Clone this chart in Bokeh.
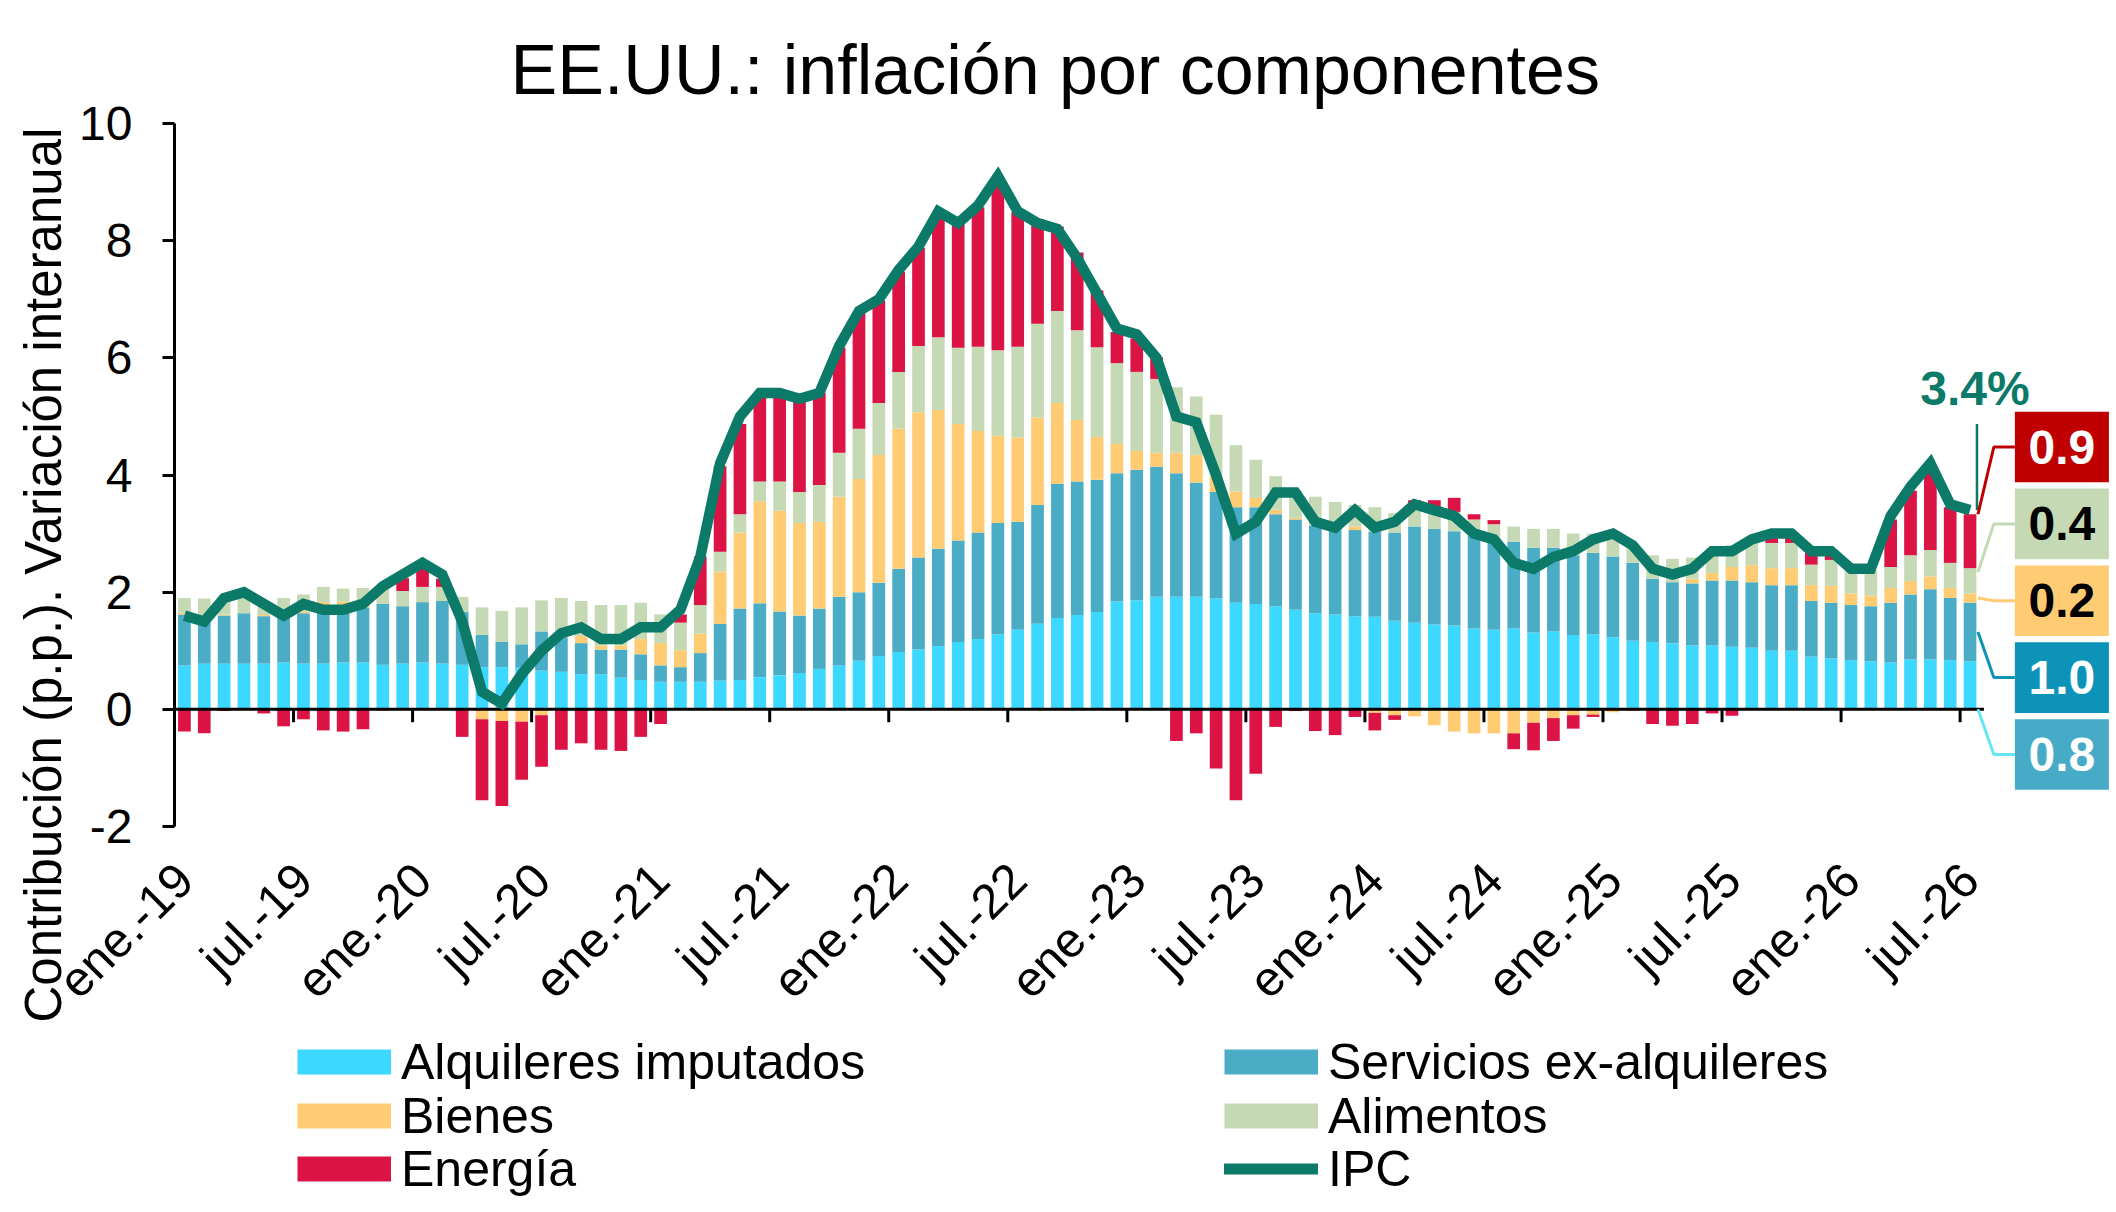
import numpy as np
from math import pi
from bokeh.plotting import figure
from bokeh.layouts import column
from bokeh.models import Range1d, FixedTicker, Legend, LegendItem, Title, ColumnDataSource, LinearAxis
from bokeh.embed import file_html
from bokeh.resources import INLINE
from bokeh.core.properties import value

# ---------------- data ----------------
meses = ["ene.", "feb.", "mar.", "abr.", "may.", "jun.", "jul.", "ago.", "sep.", "oct.", "nov.", "dic."]
anios = ["19", "20", "21", "22", "23", "24", "25", "26"]
categorias = [f"{m}-{a}" for a in anios for m in meses][:91]   # ene.-19 ... jul.-26

alquileres = [
    .75, .78, .78, .78, .78, .80, .78, .78, .80, .80, .76, .78,
    .80, .78, .76, .72, .72, .71, .66, .64, .60, .60, .54, .50,
    .47, .47, .47, .49, .50, .55, .58, .62, .69, .75, .83, .91,
    .98, 1.02, 1.08, 1.15, 1.20, 1.28, 1.36, 1.46, 1.56, 1.61, 1.66, 1.84,
    1.86, 1.92, 1.92, 1.92, 1.89, 1.82, 1.80, 1.76, 1.70, 1.64, 1.62, 1.59,
    1.58, 1.51, 1.48, 1.45, 1.43, 1.38, 1.36, 1.38, 1.31, 1.33, 1.27, 1.28,
    1.23, 1.17, 1.15, 1.13, 1.09, 1.09, 1.07, 1.05, 1.00, 1.00, .90, .87,
    .84, .82, .80, .85, .85, .84, .82]

servicios = [
    .87, .80, .82, .86, .81, .79, .86, .95, .92, .94, 1.04, .98,
    1.03, 1.07, .90, .55, .43, .40, .67, .59, .53, .42, .48, .44,
    .28, .25, .49, .97, 1.22, 1.26, 1.09, .98, 1.03, 1.17, 1.17, 1.25,
    1.42, 1.57, 1.66, 1.73, 1.82, 1.90, 1.84, 2.03, 2.29, 2.28, 2.26, 2.19,
    2.23, 2.22, 2.11, 1.95, 1.82, 1.63, 1.65, 1.57, 1.54, 1.50, 1.46, 1.47,
    1.45, 1.51, 1.64, 1.63, 1.61, 1.58, 1.57, 1.48, 1.45, 1.43, 1.36, 1.39,
    1.38, 1.33, 1.08, 1.04, 1.06, 1.11, 1.13, 1.12, 1.12, 1.12, .95, .95,
    .94, .94, 1.02, 1.11, 1.20, 1.06, 1.00]

bienes = [
    .03, .02, .02, -.01, .02, .02, .03, .10, .12, .05, .00, .00,
    .00, .00, .00, -.17, -.20, -.21, -.10, .00, .12, .07, .07, .26,
    .38, .29, .33, .89, 1.30, 1.74, 1.72, 1.58, 1.48, 1.71, 1.93, 2.18,
    2.39, 2.48, 2.37, 1.99, 1.73, 1.49, 1.44, 1.49, 1.38, 1.05, .73, .50,
    .32, .24, .35, .47, .27, .27, .16, .08, .03, .00, .00, .06,
    -.06, -.10, -.12, -.27, -.38, -.41, -.41, -.41, -.23, -.15, -.10, -.09,
    -.05, .00, .00, .00, .08, .13, .23, .29, .29, .29, .27, .29,
    .20, .18, .25, .23, .22, .17, .16]

alimentos = [
    .25, .29, .30, .31, .22, .29, .29, .26, .22, .28, .30, .26,
    .26, .24, .26, .47, .53, .63, .53, .67, .60, .69, .69, .62,
    .49, .47, .49, .34, .31, .34, .50, .53, .63, .75, .86, .89,
    .97, 1.13, 1.24, 1.30, 1.44, 1.46, 1.55, 1.60, 1.57, 1.53, 1.53, 1.38,
    1.35, 1.26, 1.12, 1.00, 1.05, .79, .65, .57, .46, .49, .46, .37,
    .42, .33, .29, .33, .33, .28, .23, .26, .32, .32, .37, .33,
    .37, .32, .40, .40, .36, .42, .37, .39, .43, .43, .35, .44,
    .40, .43, .36, .44, .45, .43, .43]

energia = [
    -.38, -.41, -.03, .06, -.07, -.29, -.17, -.36, -.38, -.34, -.02, .22,
    .38, .14, -.47, -1.38, -1.45, -.99, -.88, -.69, -.58, -.69, -.71, -.47,
    -.25, .14, .83, 1.46, 1.54, 1.43, 1.47, 1.57, 1.57, 1.79, 1.99, 1.75,
    1.71, 1.68, 2.10, 2.16, 2.38, 2.93, 2.30, 1.79, 1.44, 1.33, .97, .53,
    .57, .37, -.54, -.41, -1.01, -1.55, -1.10, -.30, -.03, -.37, -.44, -.13,
    -.30, -.08, .16, .16, .24, .09, .07, -.27, -.47, -.39, -.23, -.04,
    .05, -.02, -.25, -.28, -.25, -.07, -.11, .03, .08, .10, .20, .15,
    .00, .00, .81, 1.10, 1.45, .95, .92]

ipc = [
    1.6, 1.5, 1.9, 2.0, 1.8, 1.6, 1.8, 1.7, 1.7, 1.8, 2.1, 2.3,
    2.5, 2.3, 1.5, 0.3, 0.1, 0.6, 1.0, 1.3, 1.4, 1.2, 1.2, 1.4,
    1.4, 1.7, 2.6, 4.2, 5.0, 5.4, 5.4, 5.3, 5.4, 6.2, 6.8, 7.0,
    7.5, 7.9, 8.5, 8.3, 8.6, 9.1, 8.5, 8.3, 8.2, 7.7, 7.1, 6.5,
    6.4, 6.0, 5.0, 4.9, 4.0, 3.0, 3.2, 3.7, 3.7, 3.2, 3.1, 3.4,
    3.1, 3.2, 3.5, 3.4, 3.3, 3.0, 2.9, 2.5, 2.4, 2.6, 2.7, 2.9,
    3.0, 2.8, 2.4, 2.3, 2.4, 2.7, 2.7, 2.9, 3.0, 3.0, 2.7, 2.7,
    2.4, 2.4, 3.3, 3.8, 4.2, 3.5, 3.4]

nombres = ["Alquileres imputados", "Servicios ex-alquileres", "Bienes", "Alimentos", "Energía"]
y_ticks = [-2, 0, 2, 4, 6, 8, 10]

# ---------------- styles ----------------
colores = ["#3DD8FF", "#4BACC6", "#FFCC73", "#C5D9B5", "#DC1446"]
caja_col = ["#47AAC6", "#0E93B8", "#FFCC73", "#C5D9B5", "#C00000"]
caja_txt = ["white", "white", "black", "black", "white"]
conector_col = ["#66E6F2", "#0E93B8", "#FFCC73", "#C5D9B5", "#C00000"]
teal = "#0B7A69"
FONT = "Liberation Sans"
W = 2110

n = len(categorias)
x = np.arange(n)

p = figure(width=W, height=1030, output_backend="svg", toolbar_location=None,
           x_range=Range1d(-0.5, 97.08), y_range=Range1d(-2, 10),
           min_border_left=174, min_border_right=0, min_border_top=123, min_border_bottom=200)
p.background_fill_color = "white"
p.border_fill_color = "white"
p.outline_line_color = None
p.xgrid.visible = False
p.ygrid.visible = False

# title
p.title.text = "EE.UU.: inflación por componentes"
p.title.text_font = FONT
p.title.text_font_size = "70px"
p.title.text_font_style = "normal"
p.title.text_color = "black"
p.title.align = "left"
p.title.offset = 336
p.title.standoff = 30

# stacked bars (positives up, negatives down)
pos = np.zeros(n)
neg = np.zeros(n)
last_seg = []
for vals, col in zip([alquileres, servicios, bienes, alimentos, energia], colores):
    v = np.array(vals, dtype=float)
    bottom = np.where(v >= 0, pos, neg + v)
    top = np.where(v >= 0, pos + v, neg)
    pos = np.where(v >= 0, pos + v, pos)
    neg = np.where(v < 0, neg + v, neg)
    src = ColumnDataSource(dict(x=x, top=top, bottom=bottom))
    p.vbar(x="x", top="top", bottom="bottom", width=0.64, source=src,
           fill_color=col, line_color=None)
    last_seg.append((bottom[-1], top[-1]))

# x axis line at zero and tick marks at category boundaries
tick_idx = list(range(0, n, 6))
p.segment(x0=[-0.5], y0=[0], x1=[n - 0.3], y1=[0], line_color="black", line_width=3)
bx = [i - 0.5 for i in tick_idx if i > 0]
p.segment(x0=bx, y0=[0] * len(bx), x1=bx, y1=[-0.22] * len(bx), line_color="black", line_width=3)

# IPC line
p.line(x, ipc, line_color=teal, line_width=10.5, line_join="miter")

# axes
p.yaxis.ticker = FixedTicker(ticks=y_ticks)
p.yaxis.major_label_overrides = {t: str(t) for t in y_ticks}
p.yaxis.minor_tick_line_color = None
p.yaxis.axis_line_width = 3
p.yaxis.major_tick_line_width = 3
p.yaxis.major_tick_out = 12
p.yaxis.major_tick_in = 0
p.yaxis.major_label_standoff = 30
p.yaxis.major_label_text_font = FONT
p.yaxis.major_label_text_font_size = "48px"
p.yaxis.major_label_text_color = "black"

p.xaxis.ticker = FixedTicker(ticks=tick_idx)
p.xaxis.major_label_overrides = {i: categorias[i] for i in tick_idx}
p.xaxis.major_label_orientation = pi / 4
p.xaxis.axis_line_color = None
p.xaxis.major_tick_line_color = None
p.xaxis.minor_tick_line_color = None
p.xaxis.major_tick_out = 0
p.xaxis.major_tick_in = 0
p.xaxis.major_label_standoff = 45
p.xaxis.major_label_text_font = FONT
p.xaxis.major_label_text_font_size = "49px"
p.xaxis.major_label_text_color = "black"

# thin empty spacer between the tick labels and the y axis title
spacer = LinearAxis(ticker=FixedTicker(ticks=[]), axis_line_color=None,
                    major_tick_line_color=None, minor_tick_line_color=None,
                    major_tick_out=14, major_tick_in=0, minor_tick_out=0, minor_tick_in=0,
                    major_label_standoff=0)
p.add_layout(spacer, "left")

# y axis title (side title, shifted down like the reference)
p.add_layout(Title(text="Contribución (p.p.). Variación interanual", align="left", offset=-196,
                   standoff=10, text_font=FONT, text_font_size="51px", text_font_style="normal",
                   text_color="black"), "left")

# last value annotation
p.text(x=[90.25], y=[5.47], text=[f"{ipc[-1]:.1f}%"], text_font=value(FONT),
       text_font_size="48px", text_font_style="bold", text_color=teal,
       text_align="center", text_baseline="middle")
p.segment(x0=[90.35], y0=[4.87], x1=[90.35], y1=[ipc[-1]], line_color=teal, line_width=2.5)

# boxes with last contributions
box_x0, box_x1 = 92.26, 97.0
box_h, pitch, top0 = 1.205, 1.312, 5.08
ultimos = [alquileres[-1], servicios[-1], bienes[-1], alimentos[-1], energia[-1]]
orden = [4, 3, 2, 1, 0]   # energía on top ... alquileres at bottom
frac = [0.0, 0.5, 0.5, 0.85, 1.0]
xs_c, ys_c, cols_c = [], [], []
for k, j in enumerate(orden):
    t = top0 - k * pitch
    b = t - box_h
    mid = (t + b) / 2
    p.quad(left=[box_x0], right=[box_x1], top=[t], bottom=[b], fill_color=caja_col[j], line_color=None)
    p.text(x=[(box_x0 + box_x1) / 2], y=[mid], text=[f"{ultimos[j]:.1f}"], text_font=value(FONT),
           text_font_size="48px", text_font_style="bold", text_color=caja_txt[j],
           text_align="center", text_baseline="middle")
    sb, st = last_seg[j]
    y0 = sb + frac[j] * (st - sb)
    xs_c.append([90.4, 91.2, box_x0])
    ys_c.append([y0, mid, mid])
    cols_c.append(conector_col[j])
p.multi_line(xs=xs_c, ys=ys_c, line_color=cols_c, line_width=3)

# ---------------- legend strip (second figure under the chart) ----------------
QH = 170
q = figure(width=W, height=QH, output_backend="svg", toolbar_location=None,
           x_range=Range1d(0, W), y_range=Range1d(0, QH),
           x_axis_type=None, y_axis_type=None,
           min_border_left=0, min_border_right=0, min_border_top=0, min_border_bottom=0)
q.outline_line_color = None
q.grid.visible = False
q.background_fill_color = "white"
q.border_fill_color = "white"

# legend proxies (a single NaN point: nothing is drawn, but the legend glyph is)
def proxy(color, width, cap="butt"):
    return q.line("x", "y", source=ColumnDataSource(dict(x=[np.nan], y=[np.nan])),
                  line_color=color, line_width=width, line_cap=cap)

sw = [proxy(c, 25) for c in colores]
sw_ipc = proxy(teal, 11, "round")
filas = [[(nombres[0], sw[0]), (nombres[1], sw[1])],
         [(nombres[2], sw[2]), (nombres[3], sw[3])],
         [(nombres[4], sw[4]), ("IPC", sw_ipc)]]
row_bottoms = [108, 54, 1]   # px from the strip bottom, one legend row each
for fila, yb in zip(filas, row_bottoms):
    leg = Legend(items=[LegendItem(label=lab, renderers=[r]) for lab, r in fila],
                 location=(123, yb), orientation="horizontal",
                 glyph_width=94, glyph_height=61, label_height=61, label_width=823,
                 label_standoff=10, spacing=0, padding=0, margin=0,
                 border_line_color=None, background_fill_alpha=0,
                 label_text_font=FONT, label_text_font_size="50px", label_text_color="black")
    q.add_layout(leg)

layout = column(p, q, spacing=0)
open("out.html", "w").write(file_html(layout, INLINE))
